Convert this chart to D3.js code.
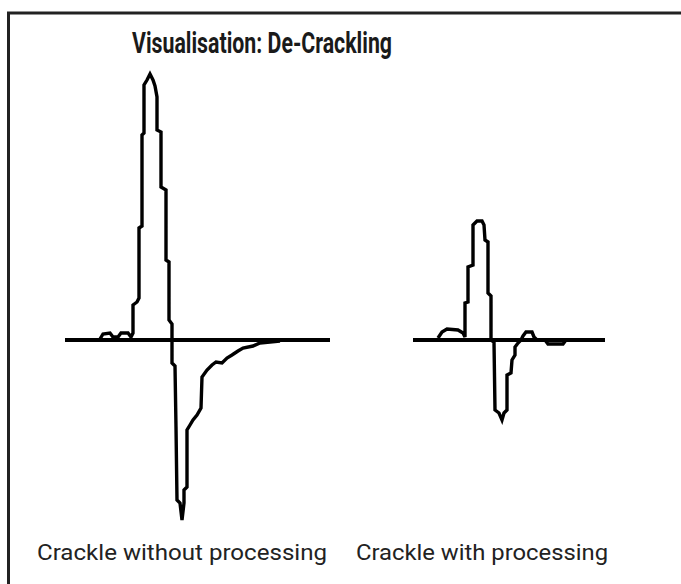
<!DOCTYPE html>
<html>
<head>
<meta charset="utf-8">
<script src="https://cdn.jsdelivr.net/npm/d3@7"></script>
<style>
  html, body { margin: 0; padding: 0; background: #fff; }
  svg { display: block; }
</style>
</head>
<body>
<svg id="chart" width="681" height="584"></svg>
<script>
// ---- data ----
const titleText = "Visualisation: De-Crackling";
const panelLabels = ["Crackle without processing", "Crackle with processing"];

// Crackle without processing: sample index and amplitude
const rawT = [35, 38, 45, 48, 53, 56, 63, 66, 68, 68, 72, 74, 74, 77, 77, 79, 79, 82, 85, 88, 90, 92, 92, 96, 96, 101, 101, 104, 104, 107, 107, 110, 111, 112, 115, 117, 119, 119, 122, 122, 125, 128, 132, 136, 137, 142, 147, 151, 157, 162, 167, 173, 178, 188, 195, 205, 215];
const rawV = [1, 6, 7, 3, 3, 7, 7, 3, 7, 35, 38, 42, 112, 114, 205, 207, 255, 260, 266, 260, 254, 243, 210, 208, 153, 150, 80, 78, 20, 16, -23, -26, -87, -160, -163, -180, -163, -150, -147, -90, -85, -80, -75, -68, -37, -30, -25, -22, -23, -18, -15, -11, -8, -6, -3, -2, -1];

// Crackle with processing: sample index and amplitude
const procT = [25, 29, 34, 45, 50, 52, 52, 55, 55, 60, 60, 64, 69, 71, 72, 75, 75, 78, 78, 81, 82, 86, 89, 91, 94, 94, 98, 99, 102, 102, 105, 108, 110, 113, 119, 121, 124, 132, 135, 150, 153];
const procV = [2, 8, 11, 10, 7, 3, 37, 38, 73, 75, 115, 119, 119, 115, 100, 98, 47, 44, 0, -2, -70, -73, -80, -73, -70, -35, -33, -20, -15, -7, -3, 0, 4, 8, 8, 3, 0, 0, -4, -4, 0];

const rawSpan = [0, 265];
const procSpan = [0, 192];

// ---- drawing ----
const svg = d3.select("#chart");

// frame (left and top edges)
svg.append("path")
  .attr("d", "M8.5,584 L8.5,13 L681,13")
  .attr("fill", "none")
  .attr("stroke", "#222")
  .attr("stroke-width", 3);

svg.append("text")
  .attr("x", 132).attr("y", 53)
  .attr("font-family", "Roboto, 'Liberation Sans', sans-serif")
  .attr("font-weight", "bold")
  .attr("font-size", 29)
  .attr("fill", "#1a1a1a")
  .attr("textLength", 260)
  .attr("lengthAdjust", "spacingAndGlyphs")
  .text(titleText);

const y = d3.scaleLinear().domain([-200, 300]).range([540, 40]);

const panels = [
  { t: rawT, v: rawV, span: rawSpan, range: [65, 330], label: panelLabels[0], lx: 37, lw: 290 },
  { t: procT, v: procV, span: procSpan, range: [413, 605], label: panelLabels[1], lx: 356, lw: 252 }
];

panels.forEach(p => {
  const x = d3.scaleLinear().domain(p.span).range(p.range);
  // zero line
  svg.append("line")
    .attr("x1", x(p.span[0])).attr("x2", x(p.span[1]))
    .attr("y1", y(0)).attr("y2", y(0))
    .attr("stroke", "#000").attr("stroke-width", 4);
  const pts = p.t.map((t, i) => [t, p.v[i]]);
  const line = d3.line().x(d => x(d[0])).y(d => y(d[1]));
  svg.append("path")
    .attr("d", line(pts))
    .attr("fill", "none")
    .attr("stroke", "#000")
    .attr("stroke-width", 3.4)
    .attr("stroke-linejoin", "miter");
  svg.append("text")
    .attr("x", p.lx).attr("y", 560)
    .attr("font-family", "Roboto, 'Liberation Sans', sans-serif")
    .attr("font-size", 22)
    .attr("fill", "#222")
    .attr("textLength", p.lw)
    .attr("lengthAdjust", "spacingAndGlyphs")
    .text(p.label);
});
</script>
</body>
</html>
